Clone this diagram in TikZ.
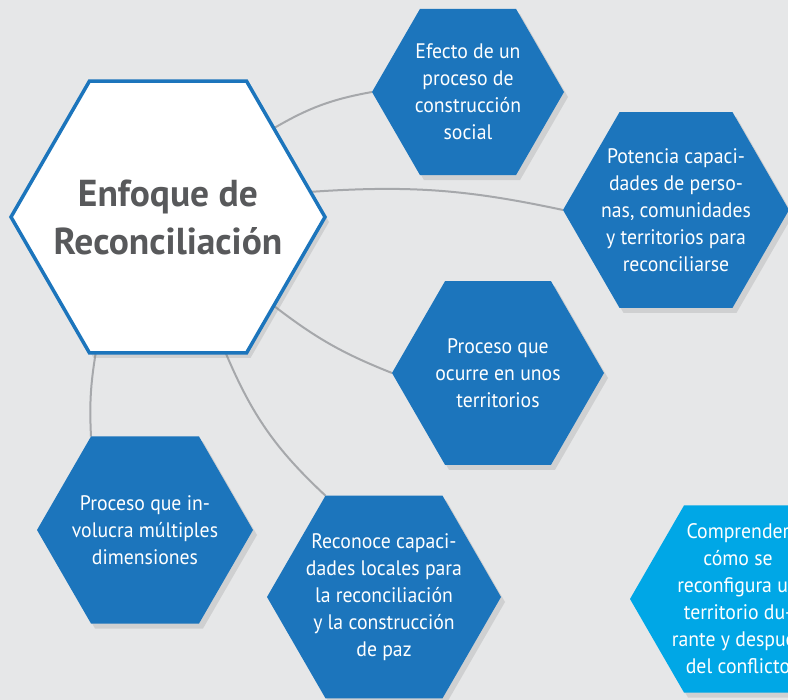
\documentclass[tikz,border=0pt]{standalone}
\usepackage{fontspec}
\setmainfont{PT Sans}
\newfontfamily\hexfont[FakeStretch=0.94]{PT Sans}
\newfontfamily\titlefont{PT Sans}
\usepackage{tikz}
\usetikzlibrary{shapes.geometric,shadows,backgrounds}
\definecolor{hexblue}{RGB}{28,117,188}
\definecolor{hexcyan}{RGB}{0,167,230}
\definecolor{bggray}{RGB}{230,231,232}
\definecolor{linkgray}{RGB}{166,168,171}
\definecolor{titlegray}{RGB}{88,89,91}
\tikzset{
    hex/.style={
        regular polygon,
        regular polygon sides=6,
        inner sep=-20pt,
        outer sep=0pt,
        align=center,
        drop shadow={opacity=0.22, shadow xshift=4pt, shadow yshift=-5pt}
    },
    hexbox/.style={
        hex,
        fill=hexblue,
        text=white,
        font=\hexfont\fontsize{21}{27}\selectfont
    },
    link/.style={
        draw=linkgray,
        line width=2pt
    }
}

\begin{document}
\begin{tikzpicture}[x=1pt,y=1pt]
    \useasboundingbox (0,0) rectangle (788,-700);
    \clip (0,0) rectangle (788,-700);

    \node[hex, fill=white, draw=hexblue, line width=3.5pt, minimum size=314pt, text=titlegray, font=\titlefont\fontsize{37.5}{48}\selectfont\bfseries] (enfoque) at (168,-217) {Enfoque de\\Reconciliación};

    \node[hexbox, minimum size=192pt] (efecto) at (468,-92) {Efecto de un\\proceso de\\construcción\\social};
    \node[hexbox, minimum size=226pt] (potencia) at (676,-210) {Potencia capaci-\\dades de perso-\\nas, comunidades\\y territorios para\\reconciliarse};
    \node[hexbox, minimum size=212pt] (ocurre) at (498,-373) {Proceso que\\ocurre en unos\\territorios};
    \node[hexbox, minimum size=216pt] (involucra) at (145,-530) {Proceso que in-\\volucra múltiples\\dimensiones};
    \node[hexbox, minimum size=234pt] (reconoce) at (384,-597) {Reconoce capaci-\\dades locales para\\la reconciliación\\y la construcción\\de paz};
    \node[hexbox, fill=hexcyan, minimum size=216pt] (comprender) at (738,-599) {Comprender\\cómo se\\reconfigura un\\territorio du-\\rante y después\\del conflicto};

    \begin{pgfonlayer}{background}
        \fill[bggray] (0,0) rectangle (788,-700);
        \draw[link] (enfoque.40) to[bend left=10] (efecto.west);
        \draw[link] (enfoque.10) to[bend left=8] (potencia.west);
        \draw[link] (enfoque.-40) to[bend right=8] (ocurre.west);
        \draw[link] (enfoque.-118) to[bend right=6] (involucra.120);
        \draw[link] (enfoque.-67) to[bend right=12] (reconoce.120);
    \end{pgfonlayer}
\end{tikzpicture}
\end{document}
